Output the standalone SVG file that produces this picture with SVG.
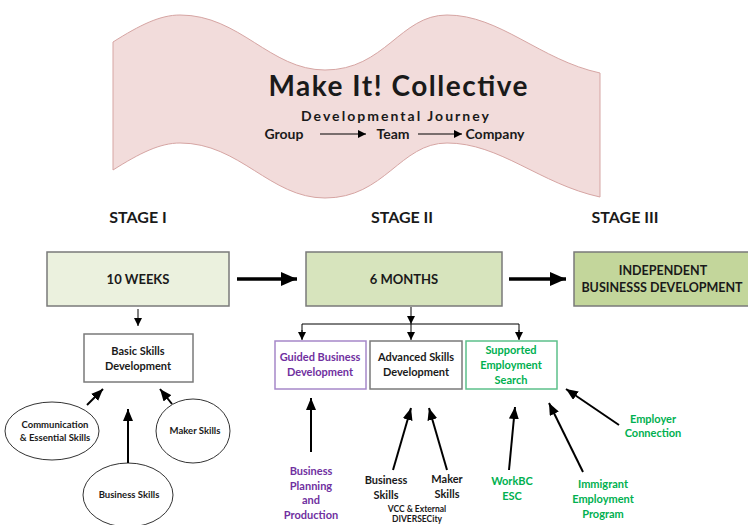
<svg xmlns="http://www.w3.org/2000/svg" width="748" height="525" viewBox="0 0 748 525">
<defs>
<style>
text{font-family:Lato,"Open Sans","Liberation Sans",sans-serif;font-weight:bold;text-anchor:middle;fill:#1a1a1a}
.purple{fill:#7030a0}
.green{fill:#00b050}
.box{stroke:#7a7a7a;stroke-width:1.5}
.ln{stroke:#000;fill:none}
</style>
<marker id="big" markerUnits="userSpaceOnUse" markerWidth="16" markerHeight="14" refX="16" refY="7" orient="auto"><path d="M0,0 L16,7 L0,14 Z" fill="#000"/></marker>
<marker id="mid" markerUnits="userSpaceOnUse" markerWidth="12" markerHeight="10" refX="12" refY="5" orient="auto"><path d="M0,0 L12,5 L0,10 Z" fill="#000"/></marker>
<marker id="sm" markerUnits="userSpaceOnUse" markerWidth="8" markerHeight="8" refX="8" refY="4" orient="auto"><path d="M0,0 L8,4 L0,8 Z" fill="#000"/></marker>
</defs>
<rect width="748" height="525" fill="#fff"/>

<g id="banner">
<path d="M113,42 C140,25 160,15 180,15 C240,15 270,70 325,70 C385,70 400,15 447,15 C500,15 540,60 600,73 L600,197 C540,184 500,143 447,143 C400,143 385,198 325,198 C270,198 240,143 180,143 C160,143 140,153 113,170 Z" fill="#f2dcdb" stroke="#d6a5a3" stroke-width="1"/>
<text x="398" y="96" font-size="28" textLength="259" lengthAdjust="spacing">Make It! Collective</text>
<text x="395" y="121" font-size="14" textLength="188" lengthAdjust="spacing">Developmental Journey</text>
<text x="284" y="139" font-size="14">Group</text>
<text x="393" y="139" font-size="14">Team</text>
<text x="495" y="139" font-size="14">Company</text>
<line class="ln" x1="320" y1="134" x2="366" y2="134" stroke-width="1" marker-end="url(#sm)"/>
<line class="ln" x1="418" y1="134" x2="462" y2="134" stroke-width="1" marker-end="url(#sm)"/>
</g>

<g id="stages">
<text x="138" y="223" font-size="16">STAGE I</text>
<text x="402" y="223" font-size="16">STAGE II</text>
<text x="625" y="223" font-size="16">STAGE III</text>
</g>

<g id="weeks">
<rect class="box" x="47" y="252" width="182" height="54" fill="#ebf1de"/>
<text x="138" y="284" font-size="13">10 WEEKS</text>
</g>
<g id="months">
<rect class="box" x="306" y="252" width="196" height="54" fill="#d7e4bd"/>
<text x="404" y="284" font-size="13">6 MONTHS</text>
</g>
<g id="independent">
<rect class="box" x="574" y="252" width="176" height="54" fill="#c3d69b"/>
<text x="663" y="275" font-size="12.5">INDEPENDENT</text>
<text x="662" y="292" font-size="12.5">BUSINESSS DEVELOPMENT</text>
</g>

<g id="basic">
<rect class="box" x="84" y="334" width="109" height="48" fill="#fff"/>
<text x="138" y="355" font-size="11">Basic Skills</text>
<text x="138" y="370" font-size="11">Development</text>
</g>
<g id="communication">
<ellipse cx="52" cy="431" rx="47" ry="29" fill="#fff" stroke="#333" stroke-width="1"/>
<text x="55" y="428" font-size="9.5">Communication</text>
<text x="55" y="441" font-size="9.5">&amp; Essential Skills</text>
</g>
<g id="maker1">
<ellipse cx="193" cy="431" rx="37" ry="32" fill="#fff" stroke="#333" stroke-width="1"/>
<text x="195" y="434" font-size="9.5">Maker Skills</text>
</g>
<g id="business1">
<ellipse cx="128" cy="495" rx="45" ry="32" fill="#fff" stroke="#333" stroke-width="1"/>
<text x="129" y="498" font-size="9.5">Business Skills</text>
</g>

<g id="guided">
<rect x="275" y="341" width="91" height="48" fill="#fff" stroke="#a688c9" stroke-width="1.5"/>
<text class="purple" x="320" y="361" font-size="11">Guided Business</text>
<text class="purple" x="320" y="376" font-size="11">Development</text>
</g>
<g id="advanced">
<rect class="box" x="370" y="341" width="92" height="48" fill="#fff" stroke="#555"/>
<text x="416" y="361" font-size="11">Advanced Skills</text>
<text x="416" y="376" font-size="11">Development</text>
</g>
<g id="supported">
<rect x="466" y="341" width="91" height="48" fill="#fff" stroke="#5cc08a" stroke-width="1.5"/>
<text class="green" x="511" y="354" font-size="11">Supported</text>
<text class="green" x="511" y="369" font-size="11">Employment</text>
<text class="green" x="511" y="384" font-size="11">Search</text>
</g>

<g id="planning">
<text class="purple" x="311" y="475" font-size="11">Business</text>
<text class="purple" x="311" y="490" font-size="11">Planning</text>
<text class="purple" x="311" y="504" font-size="11">and</text>
<text class="purple" x="311" y="519" font-size="11">Production</text>
</g>
<g id="business2">
<text x="386" y="484" font-size="11">Business</text>
<text x="386" y="499" font-size="11">Skills</text>
</g>
<g id="maker2">
<text x="447" y="483" font-size="11">Maker</text>
<text x="447" y="498" font-size="11">Skills</text>
</g>
<g id="vcc">
<text x="417" y="512" font-size="8.5">VCC &amp; External</text>
<text x="417" y="522" font-size="8.5">DIVERSECity</text>
</g>
<g id="workbc">
<text class="green" x="512" y="485" font-size="11">WorkBC</text>
<text class="green" x="512" y="500" font-size="11">ESC</text>
</g>
<g id="immigrant">
<text class="green" x="603" y="488" font-size="11">Immigrant</text>
<text class="green" x="603" y="503" font-size="11">Employment</text>
<text class="green" x="603" y="518" font-size="11">Program</text>
</g>
<g id="employer">
<text class="green" x="653" y="423" font-size="11">Employer</text>
<text class="green" x="653" y="437" font-size="11">Connection</text>
</g>

<g id="connectors">
<line class="ln" x1="237" y1="279" x2="297" y2="279" stroke-width="3.5" marker-end="url(#big)"/>
<line class="ln" x1="509" y1="279" x2="566" y2="279" stroke-width="3.5" marker-end="url(#big)"/>
<line class="ln" x1="138" y1="309" x2="138" y2="326" stroke-width="1" marker-end="url(#sm)"/>
<line class="ln" x1="87" y1="405" x2="103" y2="389" stroke-width="2" marker-end="url(#mid)"/>
<line class="ln" x1="128" y1="463" x2="128" y2="409" stroke-width="2" marker-end="url(#mid)"/>
<line class="ln" x1="172" y1="404" x2="160" y2="389" stroke-width="2" marker-end="url(#mid)"/>
<line class="ln" x1="411" y1="307" x2="411" y2="324" stroke-width="1" marker-end="url(#sm)"/>
<path class="ln" d="M302,339 V324 H519 V339" stroke-width="1" stroke="#555"/>
<line class="ln" x1="302" y1="330" x2="302" y2="340" stroke-width="1" marker-end="url(#sm)"/>
<line class="ln" x1="411" y1="324" x2="411" y2="340" stroke-width="1" marker-end="url(#sm)"/>
<line class="ln" x1="519" y1="330" x2="519" y2="340" stroke-width="1" marker-end="url(#sm)"/>
<line class="ln" x1="311" y1="452" x2="311" y2="398" stroke-width="2" marker-end="url(#mid)"/>
<line class="ln" x1="393" y1="470" x2="411" y2="408" stroke-width="2" marker-end="url(#mid)"/>
<line class="ln" x1="447" y1="470" x2="429" y2="408" stroke-width="2" marker-end="url(#mid)"/>
<line class="ln" x1="509" y1="470" x2="515" y2="407" stroke-width="2" marker-end="url(#mid)"/>
<line class="ln" x1="583" y1="472" x2="549" y2="403" stroke-width="2" marker-end="url(#mid)"/>
<line class="ln" x1="619" y1="425" x2="566" y2="389" stroke-width="2" marker-end="url(#mid)"/>
</g>
</svg>
